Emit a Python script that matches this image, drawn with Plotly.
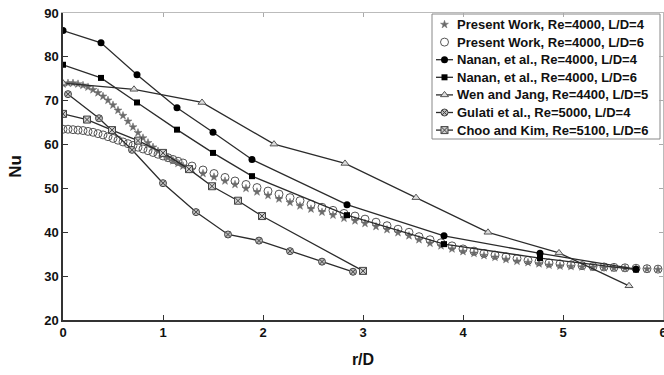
import plotly.graph_objects as go

# ---- Present work (CFD), dense near the stagnation point then sparser ----
pw_r = [0.00, 0.05, 0.10, 0.15, 0.20, 0.25, 0.30, 0.35, 0.40, 0.45, 0.50,
        0.55, 0.60, 0.65, 0.70, 0.75, 0.80, 0.85, 0.90, 0.95, 1.00, 1.05,
        1.10, 1.15, 1.20,
        1.29, 1.40, 1.51, 1.62, 1.72, 1.83, 1.94, 2.05, 2.16, 2.27, 2.37,
        2.48, 2.59, 2.70, 2.81, 2.92, 3.02, 3.13, 3.24, 3.35, 3.46, 3.56,
        3.67, 3.78, 3.89, 4.00, 4.11, 4.21, 4.32, 4.43, 4.54, 4.65, 4.76,
        4.86, 4.97, 5.08, 5.19, 5.30, 5.41, 5.51, 5.62, 5.73, 5.84, 5.95]

pw_ld4 = [73.8, 74.0, 74.0, 73.8, 73.5, 73.1, 72.5, 71.8, 71.0, 70.1, 69.0,
          67.8, 66.6, 65.3, 64.0, 62.7, 61.5, 60.4, 59.4, 58.5, 57.7, 57.0,
          56.3, 55.7, 55.1,
          54.3, 53.4, 52.6, 51.7, 50.9, 50.0, 49.2, 48.4, 47.6, 46.8, 46.0,
          45.3, 44.6, 43.9, 43.2, 42.6, 42.0, 41.3, 40.6, 39.9, 39.2, 38.3,
          37.5, 36.9, 36.2, 35.6, 35.2, 34.7, 34.3, 33.8, 33.4, 33.1, 32.8,
          32.5, 32.3, 32.2, 32.1, 32.0, 31.9, 31.8, 31.8, 31.7, 31.6, 31.5]

pw_ld6 = [63.5, 63.5, 63.4, 63.3, 63.2, 63.0, 62.8, 62.5, 62.2, 61.8, 61.4,
          61.0, 60.6, 60.2, 59.8, 59.4, 59.0, 58.6, 58.2, 57.8, 57.4, 57.0,
          56.6, 56.2, 55.8,
          55.1, 54.2, 53.4, 52.5, 51.7, 50.9, 50.2, 49.4, 48.7, 47.9, 47.2,
          46.4, 45.7, 45.0, 44.3, 43.7, 43.0, 42.3, 41.5, 40.7, 40.0, 39.0,
          38.3, 37.6, 36.9, 36.2, 35.7, 35.2, 34.8, 34.4, 34.0, 33.6, 33.3,
          33.0, 32.8, 32.6, 32.4, 32.2, 32.1, 32.0, 31.9, 31.8, 31.7, 31.6]

# ---- Nanan et al., Re=4000 ----
nanan_r = [0.00, 0.38, 0.74, 1.14, 1.50, 1.89, 2.84, 3.81, 4.77, 5.73]
nanan_ld4 = [86.0, 83.2, 75.9, 68.4, 62.8, 56.6, 46.3, 39.2, 35.2, 31.6]
nanan_ld6 = [78.2, 75.2, 69.6, 63.4, 58.1, 52.8, 43.9, 37.3, 34.1, 31.5]

# ---- Wen and Jang, Re=4400, L/D=5 ----
wen_r = [0.00, 0.71, 1.39, 2.11, 2.82, 3.53, 4.25, 4.96, 5.66]
wen_nu = [74.0, 72.6, 69.6, 60.1, 55.7, 47.9, 40.0, 35.3, 27.8]

# ---- Gulati et al., Re=5000, L/D=4 ----
gulati_r = [0.05, 0.36, 0.69, 1.00, 1.33, 1.65, 1.96, 2.27, 2.59, 2.90]
gulati_nu = [71.5, 66.0, 58.8, 51.2, 44.6, 39.5, 38.1, 35.7, 33.3, 31.0]

# ---- Choo and Kim, Re=5100, L/D=6 ----
choo_r = [0.00, 0.24, 0.49, 0.75, 1.00, 1.26, 1.49, 1.75, 1.99, 3.00]
choo_nu = [67.0, 65.7, 63.3, 60.9, 58.1, 54.4, 50.5, 47.2, 43.7, 31.2]

x_ticks = [0, 1, 2, 3, 4, 5, 6]
y_ticks = [20, 30, 40, 50, 60, 70, 80, 90]

names = ["Present Work, Re=4000, L/D=4",
         "Present Work, Re=4000, L/D=6",
         "Nanan, et al., Re=4000, L/D=4",
         "Nanan, et al., Re=4000, L/D=6",
         "Wen and Jang, Re=4400, L/D=5",
         "Gulati et al., Re=5000, L/D=4",
         "Choo and Kim, Re=5100, L/D=6"]

LINE = dict(color="#2b2b2b", width=1.3)
FONT = "Liberation Sans, Arial, sans-serif"

# marker style per series (same order as names)
styles = [
    dict(symbol="star", size=6, color="#6a6a6a",
         line=dict(width=0.5, color="#6a6a6a")),
    dict(symbol="circle-open", size=8, color="#555555",
         line=dict(width=1, color="#555555")),
    dict(symbol="circle", size=7, color="#000000"),
    dict(symbol="square", size=6, color="#000000"),
    dict(symbol="triangle-up", size=7, color="#dddddd",
         line=dict(width=1, color="#555555")),
    dict(symbol="circle-x", size=7, color="#bbbbbb",
         line=dict(width=1, color="#444444")),
    dict(symbol="square-x", size=7, color="#cccccc",
         line=dict(width=1, color="#444444")),
]
has_line = [False, False, True, True, True, True, True]

series = [(pw_r, pw_ld4), (pw_r, pw_ld6), (nanan_r, nanan_ld4),
          (nanan_r, nanan_ld6), (wen_r, wen_nu), (gulati_r, gulati_nu),
          (choo_r, choo_nu)]

fig = go.Figure()
draw_order = [1, 0, 2, 3, 4, 5, 6]
for i in draw_order:
    xs, ys = series[i]
    fig.add_trace(go.Scatter(
        x=xs, y=ys, name=names[i],
        mode="lines+markers" if has_line[i] else "markers",
        line=LINE, marker=styles[i], showlegend=False))

# ---- legend box, built on a pixel-scaled overlay axis ----
W, H = 664, 375
ML, MR, MT, MB = 63, 1, 13, 55
box_l, box_r, box_t, box_b = 432, 660, 14, 139
row0, row_step = 24.5, 17.6
sym_l, sym_r, text_x = 436, 453, 455

fig.add_shape(type="rect", xref="x3", yref="y3",
              x0=box_l, x1=box_r, y0=box_t, y1=box_b,
              line=dict(color="#888888", width=1), fillcolor="white",
              layer="below")
for k in range(len(names)):
    yc = row0 + k * row_step
    xc = (sym_l + sym_r) / 2
    if has_line[k]:
        fig.add_trace(go.Scatter(
            x=[sym_l, sym_r], y=[yc, yc], xaxis="x3", yaxis="y3",
            mode="lines", line=LINE, showlegend=False, hoverinfo="skip"))
    fig.add_trace(go.Scatter(
        x=[xc], y=[yc], xaxis="x3", yaxis="y3", mode="markers",
        marker=styles[k], showlegend=False, hoverinfo="skip"))
    fig.add_annotation(
        x=text_x, y=yc, xref="x3", yref="y3", text=names[k],
        showarrow=False, xanchor="left", yanchor="middle",
        font=dict(family=FONT, size=13, color="#111111", weight="bold"))

tickfont = dict(family=FONT, size=13, color="#111111", weight="bold")
fig.update_layout(
    width=W, height=H,
    margin=dict(l=ML, r=MR, t=MT, b=MB, autoexpand=False),
    paper_bgcolor="white", plot_bgcolor="white",
    font=dict(family=FONT, color="#111111"),
    showlegend=False,
    xaxis=dict(
        range=[0, 6], tickvals=x_ticks, ticklabeloverflow="allow",
        ticks="inside", ticklen=5, tickcolor="#333333",
        showline=True, linecolor="#333333", linewidth=1.5,
        showgrid=False, zeroline=False, tickfont=tickfont,
        automargin=False,
        title=dict(text="r/D", font=dict(family=FONT, size=16, weight="bold"),
                   standoff=14),
    ),
    yaxis=dict(
        range=[20, 90], tickvals=y_ticks,
        ticks="inside", ticklen=5, tickcolor="#333333",
        showline=True, linecolor="#333333", linewidth=1.5,
        showgrid=False, zeroline=False, tickfont=tickfont,
        automargin=False,
        title=dict(text="Nu", font=dict(family=FONT, size=17, weight="bold"),
                   standoff=18),
    ),
    # light frame on the top and right with mirrored ticks
    xaxis2=dict(
        overlaying="x", side="top", range=[0, 6],
        tickvals=x_ticks, ticks="inside", ticklen=4,
        tickcolor="#aaaaaa", showticklabels=False,
        showline=True, linecolor="#bbbbbb", linewidth=1,
        showgrid=False, zeroline=False,
    ),
    yaxis2=dict(
        overlaying="y", side="right", range=[20, 90],
        tickvals=y_ticks, ticks="inside",
        ticklen=4, tickcolor="#aaaaaa", showticklabels=False,
        showline=True, linecolor="#bbbbbb", linewidth=1,
        showgrid=False, zeroline=False,
    ),
    # pixel-scaled axes used only to place the legend box
    xaxis3=dict(overlaying="x", range=[ML, W - MR], visible=False,
                fixedrange=True),
    yaxis3=dict(overlaying="y", range=[H - MB, MT], visible=False,
                fixedrange=True),
)

# invisible trace to activate the framing axes
fig.add_trace(go.Scatter(x=[0], y=[20], xaxis="x2", yaxis="y2",
                         mode="markers", marker=dict(opacity=0),
                         showlegend=False, hoverinfo="skip"))

fig.write_html("out.html")
